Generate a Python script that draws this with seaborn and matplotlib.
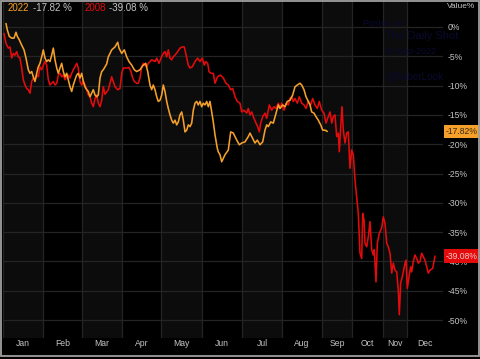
import matplotlib
matplotlib.use("Agg")
import matplotlib.pyplot as plt
import seaborn as sns
import pandas as pd
from matplotlib.patches import Rectangle

# ---------------- data ----------------
months = ["Jan", "Feb", "Mar", "Apr", "May", "Jun", "Jul", "Aug", "Sep", "Oct", "Nov", "Dec"]
month_bounds = [0, 40, 79, 119, 158, 199, 239, 279, 319, 349, 380, 404, 440]
y_ticks = [0, -5, -10, -15, -20, -25, -30, -35, -40, -45, -50]

x_2022 = [3, 4.3, 6.3, 8.7, 11, 13, 14.3, 16.3, 18.7, 21, 23, 25.3, 27, 28.7, 30.3, 32, 33.7, 35.3, 37, 38.7,
          40.3, 42, 43.7, 45.3, 47, 48.7, 50.3, 52, 53.7, 55.3, 57, 58.7, 60.3, 62, 63.7, 65.3, 67, 68.7, 70.3, 72,
          73.7, 75.3, 77, 78.7, 80.3, 82, 83.7, 85.3, 87, 88.7, 90.3, 92, 93.7, 95.3, 97, 98.7, 100.3, 102, 103.7, 105.3,
          108.7, 112, 114.7, 116, 118.7, 121.3, 123.7, 126, 128.7, 131.3, 133.7, 137, 140.3, 142.7, 144.7, 147, 148.7,
          150.3, 152, 153.7, 155.3, 157, 158.7, 160.3, 162, 163.7, 165.3, 167, 168.7, 170.3, 172, 173.7, 175.3, 177,
          178.7, 180.3, 182, 183.7, 185.3, 187, 188.7, 190.3, 192, 193.7, 195.3, 197, 198.7, 200.3, 202, 203.7, 205.3,
          207, 208.7, 210.3, 212, 214.3, 215.3, 217, 218.7, 222, 225.3, 227.7, 230.3, 233.7, 236.3, 238.7, 242, 245.3,
          247, 249.7, 252, 254.3, 257, 259.7, 262, 263.7, 265.3, 267.7, 270.3, 273, 275.3, 277, 279.7, 282, 284.3, 287,
          289.7, 292, 294.3, 297, 298.7, 301, 303, 305.3, 307, 308.7, 311, 313, 315.3, 317.7, 319.7, 322, 324.3]
v_2022 = [0.6, -0.5, -1.6, -1.9, -1.9, -0.9, -1.6, -2.2, -3.1, -3.9, -5.3, -7.3, -7.9, -7.6, -8.5, -9.3, -7.9, -6.8,
          -6.2, -5.1, -3.9, -5.3, -5.9, -5.6, -5.9, -4.8, -3.6, -5.6, -7.0, -7.9, -7.0, -6.2, -7.6, -8.5, -7.9, -9.0,
          -10.2, -11.0, -9.9, -9.0, -8.2, -7.9, -8.7, -7.9, -9.3, -10.2, -10.7, -11.0, -11.9, -11.3, -10.7, -11.6,
          -11.9, -11.6, -8.7, -7.6, -7.3, -6.8, -6.3, -5.1, -3.9, -3.4, -2.6, -3.6, -4.5, -3.9, -5.1, -5.9, -6.5,
          -7.3, -7.6, -7.3, -6.5, -6.2, -7.6, -9.9, -10.7, -9.9, -10.7, -11.9, -12.7, -12.5, -11.6, -9.9, -11.0,
          -12.7, -13.9, -15.0, -15.9, -16.4, -15.9, -16.7, -16.2, -15.0, -14.5, -15.9, -17.9, -17.6, -16.7, -17.0,
          -16.4, -14.2, -13.0, -12.7, -13.3, -12.7, -13.6, -13.0, -13.3, -12.7, -13.6, -12.7, -14.5, -16.2, -18.4,
          -20.7, -21.3, -21.8, -23.0, -21.8, -21.0, -17.9, -18.1, -19.3, -20.1, -19.8, -19.6, -18.7, -18.1, -19.0,
          -19.8, -19.3, -20.1, -19.6, -17.6, -16.7, -17.0, -16.2, -16.4, -14.7, -13.3, -13.9, -13.3, -13.6, -12.7,
          -12.5, -11.6, -10.2, -9.9, -9.6, -9.9, -10.7, -11.9, -12.7, -13.3, -14.5, -14.7, -15.3, -15.9, -16.7,
          -17.6, -17.6, -17.82]

x_2008 = [1, 3, 5.3, 7, 8.7, 10.3, 12, 13.7, 15.3, 17, 18.7, 20.3, 22, 23.7, 25.3, 27, 28.7, 30.3, 32, 33.7, 35.3,
          37, 38.7, 40.3, 42, 43.7, 45.3, 47, 48.7, 50.3, 52, 53.7, 55.3, 57, 58.7, 60.3, 62, 63.7, 65.3, 67, 68.7,
          70.3, 72, 73.7, 75.3, 77, 78.7, 80.3, 82, 83.7, 85.3, 87, 88.7, 90.3, 92, 93.7, 95.3, 97, 98.7, 100.3, 102,
          105.3, 107, 108.7, 110.3, 112, 114.7, 117, 118.7, 120.3, 123.7, 126, 128, 129.3, 131.3, 133.7, 135.3, 137,
          138.7, 140.3, 142, 143.7, 145.3, 148.7, 152, 153.7, 156, 158, 160.3, 162, 163.7, 165.3, 167, 168.7, 170.3,
          172, 174.7, 177, 179.3, 181.3, 182.7, 183.7, 185.3, 187, 189.3, 192, 194.7, 197, 199.3, 201.3, 202.7,
          204.7, 206, 208, 210.3, 212, 214.5, 217.5, 220.3, 223, 225.3, 227.7, 229.7, 232, 234.3, 237, 238.7, 241,
          243.7, 245.3, 247, 248.7, 251, 253, 254.7, 256.3, 257.7, 259.7, 262, 263.7, 266.3, 268.7, 271, 273, 275.3,
          277, 278.7, 281, 283, 285.3, 287, 288.7, 290.3, 292, 294.3, 296.3, 298.7, 301, 303, 305.3, 307.7, 309.7,
          312, 314.3, 316.3, 318.7, 321, 323, 325.3, 327, 328.7, 330.3, 332, 333.7, 335.3, 336.3, 337.7, 339, 340.3,
          342, 343.7, 345.3, 347, 348.7, 350.3, 352, 353.7, 355.3, 357, 358.7, 359.7, 361, 362, 363.7, 365.3, 367,
          368.7, 370.3, 371.3, 373, 374.3, 376.3, 378.7, 380.3, 382, 383.7, 385.3, 387, 388.7, 390.3, 392, 393.7,
          395.3, 396.3, 397.7, 399.7, 402, 403, 404.3, 406.3, 407.7, 408.7, 410.3, 412, 413.7, 415.3, 417, 418.7,
          420.3, 422, 423.7, 425.3, 427, 429.7, 432]
v_2008 = [-1.1, -2.8, -3.6, -3.4, -5.3, -4.5, -4.8, -4.2, -5.1, -5.3, -7.0, -9.0, -9.9, -10.5, -10.7, -11.3, -9.3,
          -8.7, -9.0, -8.2, -8.5, -6.8, -7.3, -6.5, -5.9, -6.5, -9.0, -9.9, -9.6, -9.3, -9.9, -9.6, -8.2, -7.9, -8.5,
          -8.2, -9.0, -8.5, -8.2, -8.7, -7.9, -7.3, -6.8, -6.2, -7.0, -9.3, -9.9, -9.3, -9.9, -10.7, -11.6, -11.9,
          -13.0, -13.6, -12.2, -11.6, -13.0, -13.6, -12.5, -10.2, -11.5, -10.7, -9.6, -8.5, -9.3, -10.2, -10.7,
          -10.5, -7.9, -7.0, -7.0, -6.9, -7.6, -8.5, -9.3, -9.6, -9.6, -8.7, -6.8, -6.2, -6.5, -6.8, -6.2, -5.6,
          -5.9, -5.3, -6.2, -5.3, -4.5, -4.2, -5.1, -3.9, -5.3, -5.6, -5.1, -4.8, -4.2, -3.6, -3.4, -3.4, -4.5,
          -5.3, -6.5, -7.0, -6.8, -5.9, -5.3, -5.9, -5.3, -6.5, -5.9, -6.2, -7.6, -7.9, -7.9, -9.6, -8.5, -8.2,
          -8.7, -9.6, -9.9, -10.7, -10.5, -11.9, -12.7, -13.0, -14.5, -14.2, -14.7, -13.9, -15.0, -14.5, -15.6,
          -16.4, -17.0, -17.9, -16.4, -15.3, -14.7, -15.6, -13.3, -14.2, -13.6, -13.9, -13.0, -13.9, -13.0, -14.2,
          -13.0, -13.3, -12.2, -11.9, -12.7, -12.2, -13.0, -11.9, -13.0, -13.3, -13.9, -12.7, -13.3, -12.2, -13.3,
          -13.9, -12.7, -14.2, -14.7, -16.4, -15.3, -14.5, -16.4, -15.3, -15.0, -18.7, -18.1, -21.3, -17.0, -13.6,
          -17.6, -19.8, -18.1, -17.9, -24.1, -21.0, -21.8, -26.1, -29.0, -31.8, -38.6, -39.5, -31.8, -32.9, -36.9,
          -37.5, -35.8, -33.2, -38.0, -38.9, -38.0, -43.5, -36.9, -35.2, -34.3, -32.4, -33.5, -36.9, -37.5, -38.6,
          -42.0, -40.3, -41.5, -41.8, -44.9, -49.1, -43.7, -42.3, -40.3, -39.8, -44.6, -42.3, -40.9, -41.8, -40.0,
          -38.9, -39.5, -40.3, -40.0, -38.6, -39.2, -39.8, -40.9, -42.0, -41.5, -41.2, -39.08]

series_names = ["2022", "2008"]
series_last = [-17.82, -39.08]
series_colors = ["#f4a02a", "#e30b0b"]

# ---------------- figure ----------------
W, H = 481, 359
sns.set_style("dark")
plt.rcParams["font.family"] = ["Liberation Sans", "DejaVu Sans"]

fig = plt.figure(figsize=(W / 100, H / 100), dpi=100, facecolor="black")
ax = fig.add_axes([3 / W, 1 - 338 / H, 440 / W, 338 / H])
ax.set_facecolor("black")

# alternating month bands
for i in range(len(months)):
    if i % 2 == 0:
        ax.axvspan(month_bounds[i], month_bounds[i + 1], color="#0c0c0c", lw=0, zorder=0)

df = pd.concat([
    pd.DataFrame({"x": x_2022, "v": v_2022, "s": "2022"}),
    pd.DataFrame({"x": x_2008, "v": v_2008, "s": "2008"}),
])
sns.lineplot(data=df, x="x", y="v", hue="s", hue_order=["2008", "2022"],
             palette={"2022": series_colors[0], "2008": series_colors[1]},
             estimator=None, sort=False, lw=1.15, ax=ax, legend=False, zorder=3)

ax.set_xlim(0, 440)
ax.set_ylim(-311 / 5.86, 27 / 5.86)

# grid
ax.set_xticks(month_bounds[:-1])
ax.set_xticklabels([])
centers = [(month_bounds[i] + month_bounds[i + 1]) / 2 for i in range(len(months))]
ax.set_xticks(centers, minor=True)
ax.set_xticklabels(months, minor=True)
ax.tick_params(axis="x", which="both", length=0, pad=1, colors="#c4c4c4", labelsize=6.2)
ax.set_yticks(y_ticks)
ax.set_yticklabels([f"{t}%" for t in y_ticks])
ax.yaxis.tick_right()
ax.tick_params(axis="y", length=0, pad=3, colors="#c4c4c4", labelsize=6.2)
for lab in ax.get_yticklabels():
    lab.set_horizontalalignment("left")
ax.grid(True, which="major", color="#242424", lw=0.9)
ax.grid(False, which="minor")
for sp in ax.spines.values():
    sp.set_visible(False)
ax.set_xlabel("")
ax.set_ylabel("")

# "Value%" header
fig.text(447 / W, 1 - 7 / H, "Value%", color="#c4c4c4", fontsize=6.0, ha="left", va="center")

# legend-like header
fig.text(8 / W, 1 - 8 / H, series_names[0], color=series_colors[0], fontsize=7.0, ha="left", va="center")
fig.text(33 / W, 1 - 8 / H, f"{series_last[0]:.2f} %", color="#c8c8c8", fontsize=7.0, ha="left", va="center")
fig.text(85 / W, 1 - 8 / H, series_names[1], color=series_colors[1], fontsize=7.0, ha="left", va="center")
fig.text(109 / W, 1 - 8 / H, f"{series_last[1]:.2f} %", color="#c8c8c8", fontsize=7.0, ha="left", va="center")

# last-value tags
tag_text = ["#3a2a10", "#f4c8c8"]
for val, col, tc in zip(series_last, series_colors, tag_text):
    ax.annotate(f"{val:.2f}%", xy=(1, val), xycoords=("axes fraction", "data"),
                xytext=(2, 0), textcoords="offset points", ha="left", va="center",
                fontsize=6.2, color=tc,
                bbox=dict(boxstyle="square,pad=0.25", fc=col, ec="none"), zorder=5)

# faint watermark
wm = "#0a0a30"
fig.text(363 / W, 1 - 23 / H, "Posted on", color=wm, fontsize=6.5, ha="left", va="center")
fig.text(385 / W, 1 - 36 / H, "The Daily Shot", color=wm, fontsize=8.0, ha="left", va="center")
fig.text(385 / W, 1 - 52 / H, "07-Sep-2022", color=wm, fontsize=6.5, ha="left", va="center")
fig.text(385 / W, 1 - 76 / H, "@SoberLook", color=wm, fontsize=7.2, ha="left", va="center")

# outer frame
fig.patches.append(Rectangle((0.5 / W, 3 / H), (W - 2) / W, (H - 3.5) / H, transform=fig.transFigure,
                             fill=False, ec="#a0a0a0", lw=1.3))

fig.savefig("out.png", dpi=100, facecolor="black")
